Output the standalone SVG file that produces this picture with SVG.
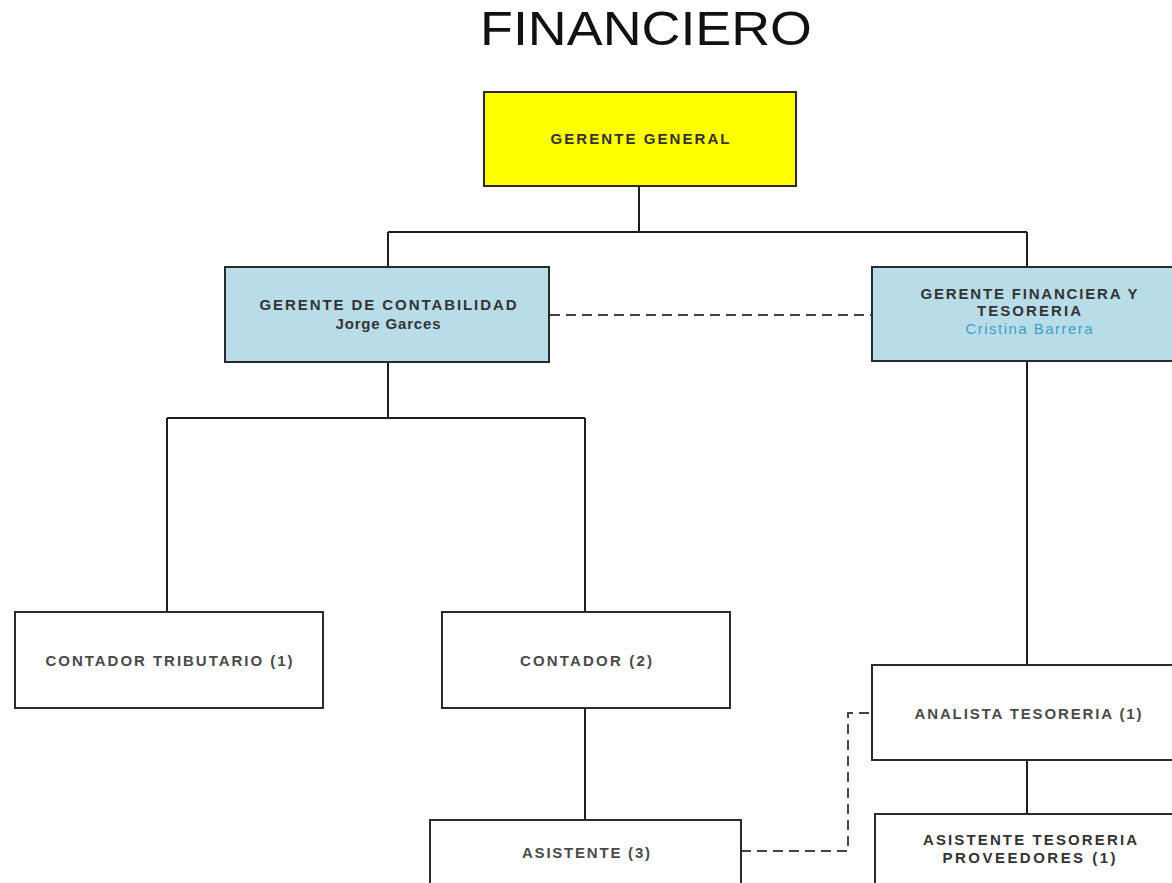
<svg xmlns="http://www.w3.org/2000/svg" width="1172" height="883" viewBox="0 0 1172 883">
<style>
.box{stroke:#2b2b2b;stroke-width:2}
.w{fill:#ffffff}
.blue{fill:#b8dde8}
.yel{fill:#ffff00}
.t{font-family:"Liberation Sans",Arial,sans-serif;font-size:15px;font-weight:bold;fill:#333;text-anchor:middle}
.g{fill:#4a4a4a}
.c{font-weight:normal;fill:#3e9fc2}
.con{fill:none;stroke:#1e1e1e;stroke-width:2}
.dash{fill:none;stroke:#444;stroke-width:2;stroke-dasharray:10 6}
</style>
<rect width="1172" height="883" fill="#ffffff"/>
<text x="646" y="45" font-family="Liberation Sans,Arial,sans-serif" font-size="49" fill="#111" text-anchor="middle" textLength="332" lengthAdjust="spacingAndGlyphs">FINANCIERO</text>
<g id="connectors">
<path class="con" d="M639 187V232M388 232H1027M388 232V267M1027 232V267"/>
<path class="con" d="M388 362V418M167 418H585M167 418V612M585 418V612"/>
<path class="con" d="M585 708V820"/>
<path class="con" d="M1027 362V665M1027 760V814"/>
<path class="dash" d="M550 315H872"/>
<path class="dash" d="M741 851H848V713H872"/>
</g>
<g id="gerente-general">
<rect class="box yel" x="484" y="92" width="312" height="94"/>
<text class="t" x="640" y="144" textLength="179" lengthAdjust="spacing">GERENTE GENERAL</text>
</g>
<g id="gerente-contabilidad">
<rect class="box blue" x="225" y="267" width="324" height="95"/>
<text class="t" x="388" y="310" textLength="257" lengthAdjust="spacing">GERENTE DE CONTABILIDAD</text>
<text class="t" x="388" y="329" textLength="105" lengthAdjust="spacing">Jorge Garces</text>
</g>
<g id="gerente-financiera">
<rect class="box blue" x="872" y="267" width="320" height="94"/>
<text class="t" x="1029" y="299" textLength="217" lengthAdjust="spacing">GERENTE FINANCIERA Y</text>
<text class="t" x="1029" y="316" textLength="104" lengthAdjust="spacing">TESORERIA</text>
<text class="t c" x="1029" y="334" textLength="127" lengthAdjust="spacing">Cristina Barrera</text>
</g>
<g id="contador-tributario">
<rect class="box w" x="15" y="612" width="308" height="96"/>
<text class="t g" x="169" y="666" textLength="247" lengthAdjust="spacing">CONTADOR TRIBUTARIO (1)</text>
</g>
<g id="contador">
<rect class="box w" x="442" y="612" width="288" height="96"/>
<text class="t g" x="586" y="666" textLength="132" lengthAdjust="spacing">CONTADOR (2)</text>
</g>
<g id="asistente">
<rect class="box w" x="430" y="820" width="311" height="80"/>
<text class="t g" x="586" y="858" textLength="128" lengthAdjust="spacing">ASISTENTE (3)</text>
</g>
<g id="analista-tesoreria">
<rect class="box w" x="872" y="665" width="320" height="95"/>
<text class="t g" x="1028" y="719" textLength="227" lengthAdjust="spacing">ANALISTA TESORERIA (1)</text>
</g>
<g id="asistente-tesoreria">
<rect class="box w" x="875" y="814" width="320" height="90"/>
<text class="t" x="1030" y="845" textLength="214" lengthAdjust="spacing">ASISTENTE TESORERIA</text>
<text class="t" x="1029" y="863" textLength="173" lengthAdjust="spacing">PROVEEDORES (1)</text>
</g>
</svg>
